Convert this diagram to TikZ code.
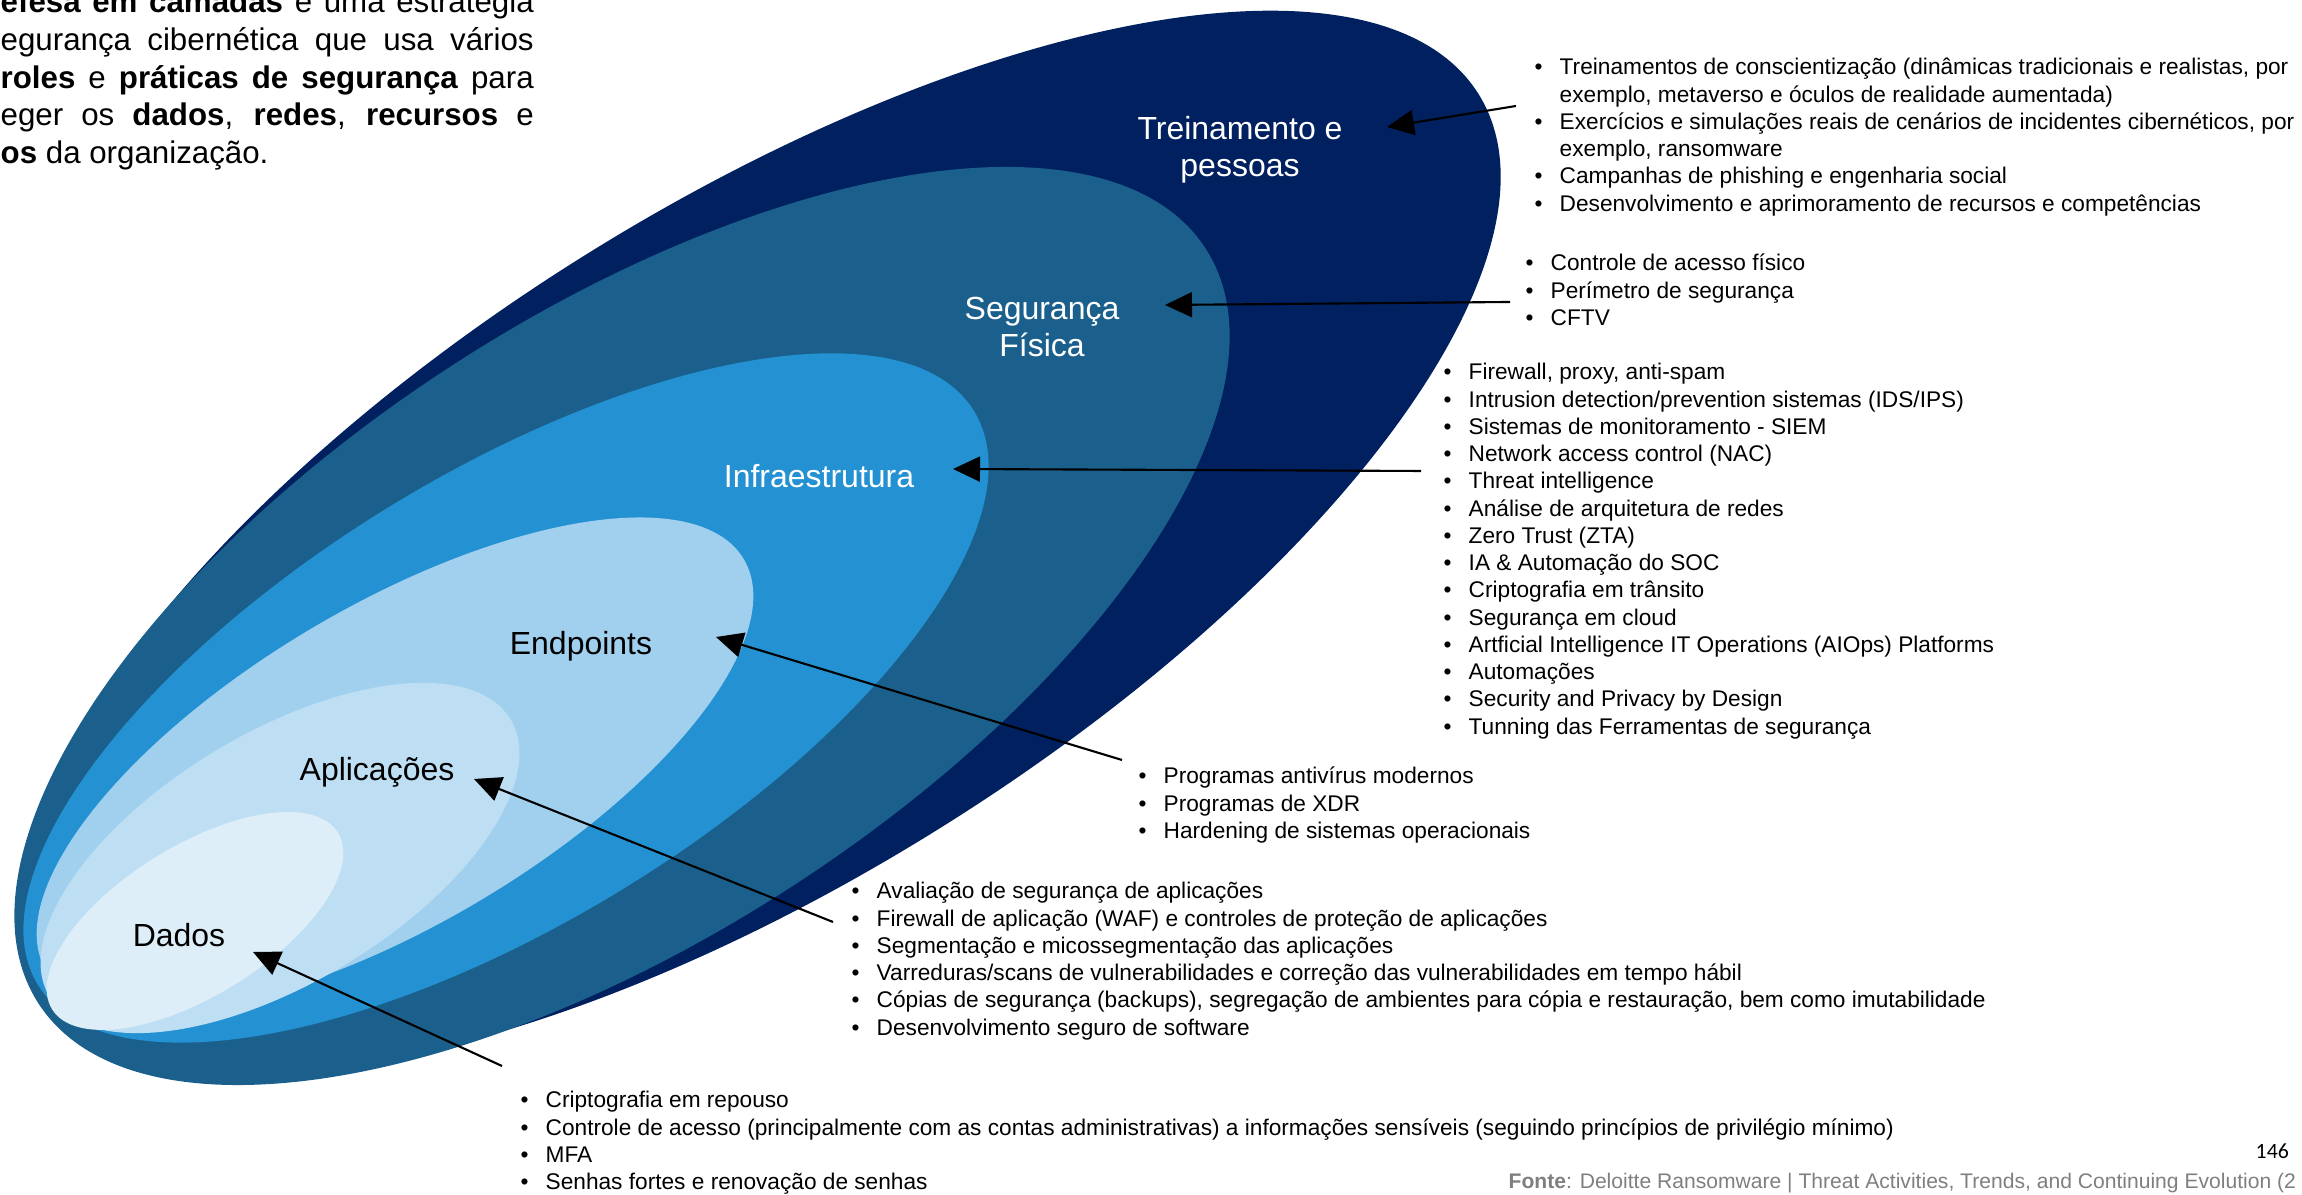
\documentclass[tikz,border=0pt]{standalone}
\usepackage{fontspec}
\setmainfont{Liberation Sans}
\newfontfamily\pagenumfont{Carlito}
\usepackage{xcolor}
\usepackage{tikz}
\usetikzlibrary{arrows.meta,positioning}

\definecolor{treinblue}{RGB}{0,32,96}
\definecolor{segblue}{RGB}{27,96,140}
\definecolor{infrablue}{RGB}{36,145,210}
\definecolor{endblue}{RGB}{160,208,238}
\definecolor{aplblue}{RGB}{190,223,243}
\definecolor{dadosblue}{RGB}{222,238,249}
\definecolor{fontegray}{RGB}{127,127,127}

\newcommand{\bul}{\makebox[2.5mm][l]{\textbullet}}
\newcommand{\cont}{\hspace*{2.5mm}}

\begin{document}
\begin{tikzpicture}[
  x=0.1mm, y=0.1mm,
  layertxt/.style={anchor=base, inner sep=0pt, font=\fontsize{9.1}{10.4}\selectfont},
  items/.style={anchor=base west, inner sep=0pt, font=\fontsize{6.45}{7.75}\selectfont},
  arrow/.style={-{Triangle[length=2.7mm, width=2.5mm]}, line width=0.6pt}
]
\useasboundingbox (0,0) rectangle (2302,1195);
\clip (0,0) rectangle (2302,1195);

\fill[treinblue, rotate around={32:(762,653)}] (762,653) ellipse [x radius=84.5mm, y radius=33.7mm];
\fill[segblue, rotate around={32.9:(622,569)}] (622,569) ellipse [x radius=69.5mm, y radius=31.1mm];
\fill[infrablue, rotate around={31.5:(506,497)}] (506,497) ellipse [x radius=54.9mm, y radius=22.4mm];
\fill[endblue, rotate around={30.5:(395,430)}] (395,430) ellipse [x radius=40.5mm, y radius=16mm];
\fill[aplblue, rotate around={31:(280,337)}] (280,337) ellipse [x radius=26.9mm, y radius=12.5mm];
\fill[dadosblue, rotate around={31.7:(195,274)}] (195,274) ellipse [x radius=16.8mm, y radius=7.5mm];

\node[anchor=base west, inner sep=0pt, font=\fontsize{8.9}{10.7}\selectfont] (intro) at (0,1182)
  {\parbox[t]{53.3mm}{\textbf{efesa em camadas} é uma estratégia\linebreak
   egurança cibernética que usa vários\linebreak
   \textbf{roles} e \textbf{práticas de segurança} para\linebreak
   eger os \textbf{dados}, \textbf{redes}, \textbf{recursos} e\linebreak
   \textbf{os} da organização.}};

\node[layertxt, text=white] (trein) at (1240,1055)
  {\begin{tabular}[t]{@{}c@{}}Treinamento e\\pessoas\end{tabular}};
\node[layertxt, text=white] (seg) at (1042,875)
  {\begin{tabular}[t]{@{}c@{}}Segurança\\Física\end{tabular}};
\node[layertxt, text=white] (infra) at (819,707) {Infraestrutura};
\node[layertxt] (endp) at (581,540) {Endpoints};
\node[layertxt] (apl) at (377,414) {Aplicações};
\node[layertxt] (dados) at (179,248) {Dados};

\node[items] (listTrein) at (1534,1120) {\begin{tabular}[t]{@{}l@{}}
  \bul Treinamentos de conscientização (dinâmicas tradicionais e realistas, por\\
  \cont exemplo, metaverso e óculos de realidade aumentada)\\
  \bul Exercícios e simulações reais de cenários de incidentes cibernéticos, por\\
  \cont exemplo, ransomware\\
  \bul Campanhas de phishing e engenharia social\\
  \bul Desenvolvimento e aprimoramento de recursos e competências
\end{tabular}};
\node[items] (listSeg) at (1525,924) {\begin{tabular}[t]{@{}l@{}}
  \bul Controle de acesso físico\\
  \bul Perímetro de segurança\\
  \bul CFTV
\end{tabular}};
\node[items] (listInfra) at (1443,815) {\begin{tabular}[t]{@{}l@{}}
  \bul Firewall, proxy, anti-spam\\
  \bul Intrusion detection/prevention sistemas (IDS/IPS)\\
  \bul Sistemas de monitoramento - SIEM\\
  \bul Network access control (NAC)\\
  \bul Threat intelligence\\
  \bul Análise de arquitetura de redes\\
  \bul Zero Trust (ZTA)\\
  \bul IA \& Automação do SOC\\
  \bul Criptografia em trânsito\\
  \bul Segurança em cloud\\
  \bul Artficial Intelligence IT Operations (AIOps) Platforms\\
  \bul Automações\\
  \bul Security and Privacy by Design\\
  \bul Tunning das Ferramentas de segurança
\end{tabular}};
\node[items] (listEnd) at (1138,411) {\begin{tabular}[t]{@{}l@{}}
  \bul Programas antivírus modernos\\
  \bul Programas de XDR\\
  \bul Hardening de sistemas operacionais
\end{tabular}};
\node[items] (listApl) at (851,296) {\begin{tabular}[t]{@{}l@{}}
  \bul Avaliação de segurança de aplicações\\
  \bul Firewall de aplicação (WAF) e controles de proteção de aplicações\\
  \bul Segmentação e micossegmentação das aplicações\\
  \bul Varreduras/scans de vulnerabilidades e correção das vulnerabilidades em tempo hábil\\
  \bul Cópias de segurança (backups), segregação de ambientes para cópia e restauração, bem como imutabilidade\\
  \bul Desenvolvimento seguro de software
\end{tabular}};
\node[items] (listDados) at (520,87) {\begin{tabular}[t]{@{}l@{}}
  \bul Criptografia em repouso\\
  \bul Controle de acesso (principalmente com as contas administrativas) a informações sensíveis (seguindo princípios de privilégio mínimo)\\
  \bul MFA\\
  \bul Senhas fortes e renovação de senhas
\end{tabular}};

\node[anchor=base west, inner sep=0pt, font=\pagenumfont\fontsize{6.2}{7.4}\selectfont] (pagenum) at (2255,36) {146};
\node[anchor=base west, inner sep=0pt, text=fontegray, font=\fontsize{6}{7.2}\selectfont] (fonte) at (1508,6)
  {\textbf{Fonte}: Deloitte Ransomware | Threat Activities, Trends, and Continuing Evolution (2};

\coordinate (treinFrom) at (1516,1089);
\coordinate (treinTip) at (1387,1068);
\coordinate (segFrom) at (1510,893);
\coordinate (segTip) at (1165,890);
\coordinate (infraFrom) at (1421,724);
\coordinate (infraTip) at (953,726);
\coordinate (endFrom) at (1122,435);
\coordinate (endTip) at (716,558);
\coordinate (aplFrom) at (833,273);
\coordinate (aplTip) at (474,416);
\coordinate (dadosFrom) at (502,129);
\coordinate (dadosTip) at (253,243);

\draw[arrow] (treinFrom) -- (treinTip);
\draw[arrow] (segFrom) -- (segTip);
\draw[arrow] (infraFrom) -- (infraTip);
\draw[arrow] (endFrom) -- (endTip);
\draw[arrow] (aplFrom) -- (aplTip);
\draw[arrow] (dadosFrom) -- (dadosTip);
\end{tikzpicture}
\end{document}
